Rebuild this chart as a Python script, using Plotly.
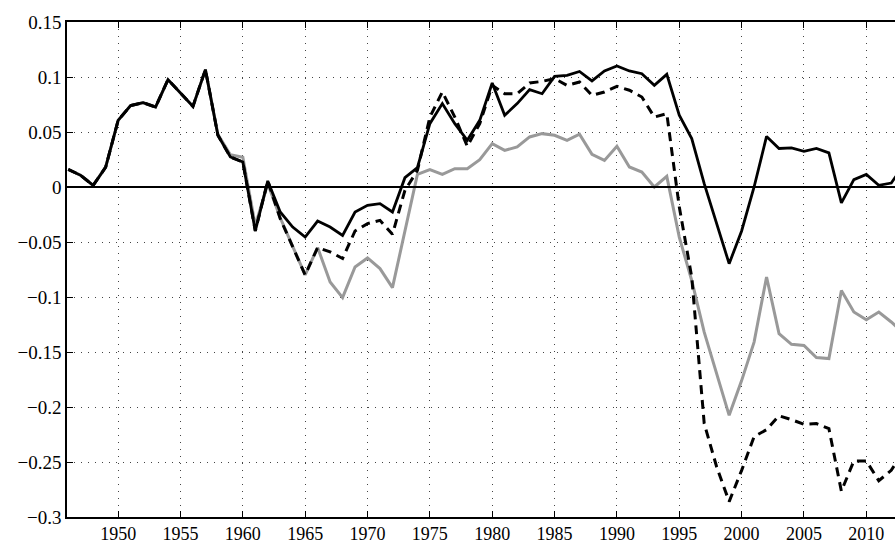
import plotly.graph_objects as go

years = list(range(1946, 2014))

solid = [0.016, 0.0106, 0.0015, 0.018, 0.0606, 0.074, 0.0767, 0.0727, 0.0976, 0.0855,
         0.0733, 0.1067, 0.047, 0.0273, 0.0227, -0.04, 0.0055, -0.0227, -0.0364, -0.0455,
         -0.031, -0.0364, -0.044, -0.0227, -0.0167, -0.0151, -0.0227, 0.0085, 0.0176, 0.0576,
         0.0758, 0.0576, 0.0424, 0.0606, 0.0945, 0.0652, 0.0758, 0.0885, 0.0848, 0.1006,
         0.1015, 0.105, 0.0964, 0.1055, 0.11, 0.1055, 0.103, 0.0924, 0.1024, 0.0652,
         0.044, 0.003, -0.034, -0.0697, -0.04, 0.0, 0.046, 0.035, 0.0355, 0.0324,
         0.035, 0.031, -0.0145, 0.0067, 0.0115, 0.0015, 0.0036, 0.02]

dashed = [0.016, 0.0106, 0.0015, 0.018, 0.0606, 0.074, 0.0767, 0.0727, 0.0976, 0.0855,
          0.0733, 0.1067, 0.047, 0.0273, 0.0227, -0.04, 0.0055, -0.0288, -0.0545, -0.08,
          -0.055, -0.059, -0.065, -0.04, -0.0333, -0.0303, -0.043, -0.003, 0.015, 0.0636,
          0.0864, 0.0636, 0.037, 0.0576, 0.0924, 0.0848, 0.0848, 0.0945, 0.096, 0.0985,
          0.0924, 0.0955, 0.0833, 0.0864, 0.0915, 0.088, 0.0818, 0.0636, 0.0667, -0.018,
          -0.082, -0.215, -0.2545, -0.286, -0.2576, -0.227, -0.2206, -0.208, -0.2115, -0.2158,
          -0.215, -0.2197, -0.2765, -0.249, -0.249, -0.267, -0.2576, -0.24]

gray = [0.016, 0.0106, 0.0015, 0.018, 0.0606, 0.074, 0.0767, 0.0727, 0.0976, 0.0855,
        0.0733, 0.1067, 0.048, 0.0294, 0.027, -0.035, 0.003, -0.028, -0.0545, -0.08,
        -0.055, -0.0864, -0.1006, -0.0727, -0.0645, -0.0742, -0.0915, -0.04, 0.0115, 0.0158,
        0.0115, 0.0167, 0.0167, 0.0248, 0.0394, 0.0333, 0.0364, 0.0455, 0.0485, 0.047,
        0.0424, 0.048, 0.0297, 0.0242, 0.037, 0.0182, 0.0136, 0.0, 0.0097, -0.0455,
        -0.085, -0.132, -0.17, -0.2076, -0.176, -0.141, -0.0818, -0.1333, -0.143, -0.144,
        -0.155, -0.156, -0.094, -0.1136, -0.1206, -0.1136, -0.1227, -0.133]

x_ticks = list(range(1950, 2015, 5))
y_ticks = [0.15, 0.1, 0.05, 0, -0.05, -0.1, -0.15, -0.2, -0.25, -0.3]
y_labels = ["0.15", "0.1", "0.05", "0", "\u22120.05", "\u22120.1", "\u22120.15",
            "\u22120.2", "\u22120.25", "\u22120.3"]

fig = go.Figure()
fig.add_trace(go.Scatter(x=years, y=gray, mode="lines",
                         line=dict(color="#999999", width=3), showlegend=False))
fig.add_trace(go.Scatter(x=years, y=dashed, mode="lines",
                         line=dict(color="black", width=3, dash="9px,6px"), showlegend=False))
fig.add_trace(go.Scatter(x=years, y=solid, mode="lines",
                         line=dict(color="black", width=2.8), showlegend=False))

fig.add_hline(y=0, line=dict(color="black", width=2))

serif = '"Liberation Serif", "Times New Roman", Times, serif'
xfont = dict(family=serif, size=18, color="black")
yfont = dict(family=serif, size=19, color="black")

fig.update_layout(
    width=895, height=545,
    margin=dict(l=67, r=0, t=22, b=28),
    paper_bgcolor="white", plot_bgcolor="white",
    font=dict(family=serif, size=17, color="black"),
    xaxis=dict(range=[1945.9, 2012.3], tickvals=x_ticks, ticks="inside", ticklen=6,
               tickcolor="black", showline=True, linecolor="black", linewidth=1.5,
               mirror="allticks", showgrid=True, gridcolor="#444444", griddash="1px,6px",
               gridwidth=1, zeroline=False, tickfont=xfont),
    yaxis=dict(range=[-0.3, 0.15], tickvals=y_ticks, ticktext=y_labels, ticks="inside",
               ticklen=6, tickcolor="black", showline=True, linecolor="black",
               linewidth=1.5, showgrid=True, gridcolor="#444444", griddash="1px,6px",
               gridwidth=1, zeroline=False, tickfont=yfont),
)

fig.write_html("out.html", config={"displayModeBar": False},
               post_script="document.body.style.margin='0';document.body.style.overflow='hidden';")
